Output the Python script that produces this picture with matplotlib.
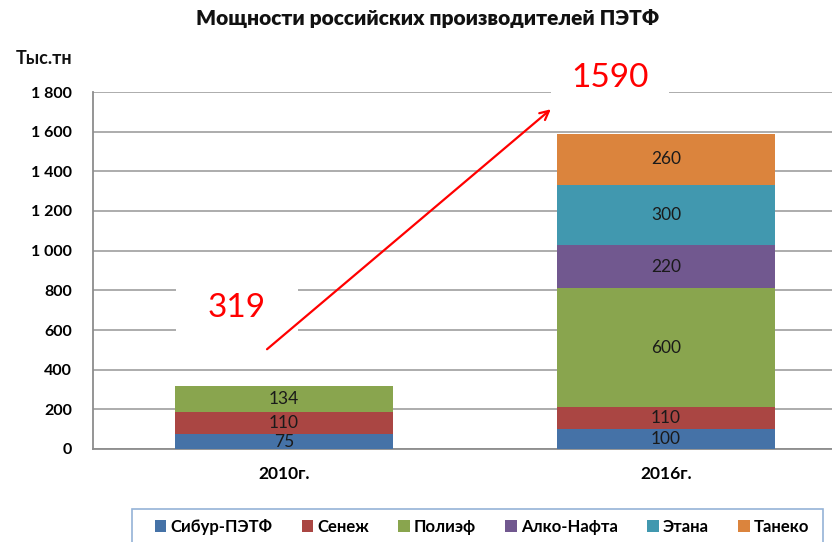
import numpy as np
import matplotlib
matplotlib.use('Agg')
import matplotlib.pyplot as plt
from matplotlib.ticker import FuncFormatter, MultipleLocator
from matplotlib.patches import Rectangle, Patch

plt.rcParams['font.family'] = ['Lato', 'DejaVu Sans']

# --- data ---
years = ['2010г.', '2016г.']
producers = ['Сибур-ПЭТФ', 'Сенеж', 'Полиэф', 'Алко-Нафта', 'Этана', 'Танеко']
capacity = {
    'Сибур-ПЭТФ': [75, 100],
    'Сенеж': [110, 110],
    'Полиэф': [134, 600],
    'Алко-Нафта': [0, 220],
    'Этана': [0, 300],
    'Танеко': [0, 260],
}
totals = [319, 1590]
colors = ['#4572A7', '#AA4643', '#89A54E', '#71588F', '#4198AF', '#DB843D']

title = 'Мощности российских производителей ПЭТФ'
unit = 'Тыс.тн'

fig = plt.figure(figsize=(8.32, 5.42), dpi=100)
W, H = 832, 542
ax = fig.add_axes([93 / W, (H - 449) / H, 764 / W, 357 / H])

x = np.arange(len(years))
bottom = np.zeros(len(years))
for name, col in zip(producers, colors):
    vals = np.array(capacity[name], dtype=float)
    ax.bar(x, vals, width=0.57, bottom=bottom, color=col, zorder=3,
           edgecolor='none')
    for xi, v, b in zip(x, vals, bottom):
        if v > 0:
            ax.text(xi, b + v / 2, f'{int(v)}', ha='center', va='center',
                    fontsize=12.5, color='#1a1a1a', zorder=4)
    bottom += vals

ax.set_xlim(-0.5, 1.5)
ax.set_ylim(0, 1800)
ax.yaxis.set_major_locator(MultipleLocator(200))
ax.yaxis.set_major_formatter(FuncFormatter(lambda v, p: f'{int(v):,}'.replace(',', ' ')))
ax.set_xticks(x)
ax.set_xticklabels(years)
ax.tick_params(axis='y', length=0, labelsize=11.5, pad=15)
ax.tick_params(axis='x', length=0, labelsize=12.5, pad=12)
for lab in ax.get_xticklabels() + ax.get_yticklabels():
    lab.set_fontweight('bold')

ax.grid(axis='y', color='#A6A6A6', linewidth=1.3, zorder=0)
ax.set_axisbelow(True)
for s in ['top', 'right']:
    ax.spines[s].set_visible(False)
for s in ['left', 'bottom']:
    ax.spines[s].set_color('#8C8C8C')
    ax.spines[s].set_linewidth(1.3)

# total annotations with white boxes
ax.text(-0.123, 711, str(totals[0]), ha='center', va='center', fontsize=24,
        color='#FF0000', zorder=5,
        bbox=dict(boxstyle='square,pad=0.95', fc='white', ec='none'))
ax.text(0.853, 1872, str(totals[1]), ha='center', va='center', fontsize=24,
        color='#FF0000', zorder=5, clip_on=False,
        bbox=dict(boxstyle='square,pad=0.6', fc='white', ec='none'))

ax.annotate('', xy=(0.704, 1722), xytext=(-0.05, 494),
            arrowprops=dict(arrowstyle='->', color='#FF0000', lw=1.6,
                            mutation_scale=16),
            zorder=6, annotation_clip=False)

fig.text(428 / W, 1 - 19 / H, title, ha='center', va='center',
         fontsize=15, fontweight='heavy', color='#111111')
fig.text(44 / W, 1 - 59 / H, unit, ha='center', va='center',
         fontsize=13, fontweight='bold', color='#111111')

# legend box (runs off the bottom edge)
fig.patches.append(Rectangle((132 / W, -0.05), (823 - 132) / W, (H - 509) / H + 0.05,
                             transform=fig.transFigure, fc='white',
                             ec='#95B3D7', lw=1.2))
handles = [Patch(facecolor=c, edgecolor='none') for c in colors]
fig.legend(handles, producers, loc='center', bbox_to_anchor=(482 / W, 1 - 527 / H),
           ncol=6, frameon=False, handlelength=0.7, handleheight=0.7,
           handletextpad=0.25, columnspacing=1.75, prop={'weight': 'bold', 'size': 12})

fig.savefig('out.png', dpi=100)
